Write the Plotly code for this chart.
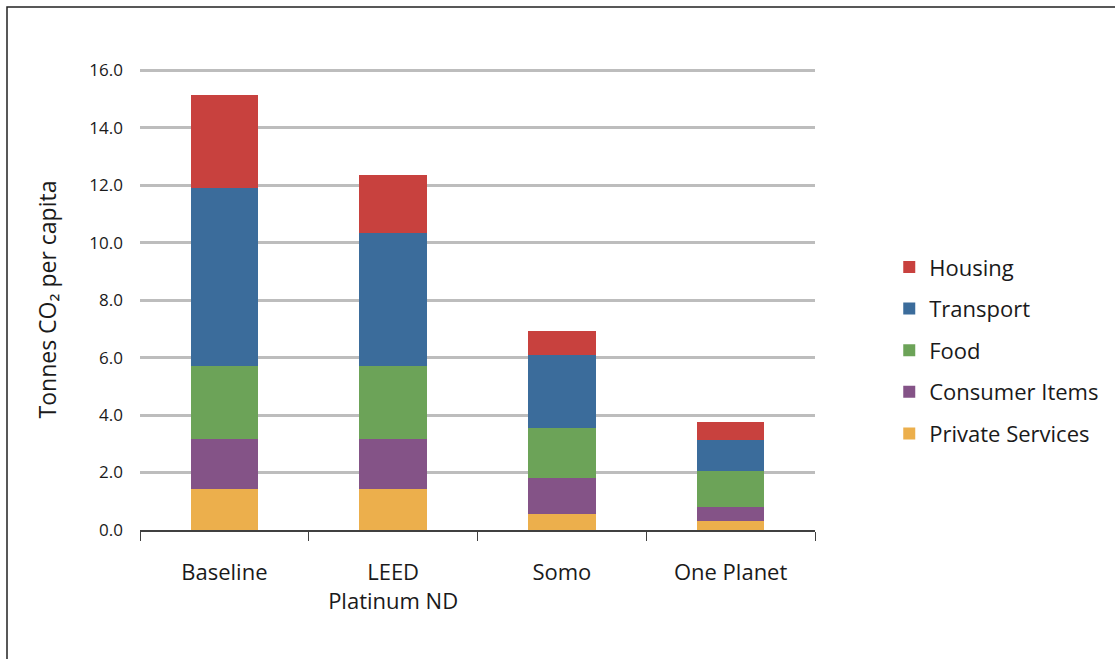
import plotly.graph_objects as go

categories = ["Baseline", "LEED<br>Platinum ND", "Somo", "One Planet"]
private_services = [1.43, 1.43, 0.57, 0.31]
consumer_items = [1.74, 1.74, 1.25, 0.49]
food = [2.53, 2.53, 1.74, 1.25]
transport = [6.20, 4.62, 2.53, 1.09]
housing = [3.23, 2.03, 0.83, 0.62]

series = [
    ("Private Services", private_services, "#ECAF4C"),
    ("Consumer Items", consumer_items, "#845387"),
    ("Food", food, "#6CA358"),
    ("Transport", transport, "#3B6C9B"),
    ("Housing", housing, "#C8413E"),
]

FONT = "Open Sans, Lato, sans-serif"

fig = go.Figure()
n = len(series)
for i, (name, vals, color) in enumerate(series):
    fig.add_trace(go.Bar(
        x=categories, y=vals, name=name, marker=dict(color=color, line=dict(width=0)),
        legendgroup=name, legendrank=n - i,
    ))

YMAX = 16.04
fig.update_layout(
    barmode="stack",
    bargap=0.6,
    width=1115, height=659,
    margin=dict(l=140, r=300, t=69, b=129, autoexpand=False),
    paper_bgcolor="white", plot_bgcolor="white",
    font=dict(family=FONT, color="#1a1a1a"),
    legend=dict(
        traceorder="grouped", tracegroupgap=10,
        x=1.11, xanchor="left", y=0.39, yanchor="middle",
        font=dict(size=22, family=FONT, color="#1a1a1a"),
        itemwidth=30,
    ),
    xaxis=dict(
        type="category", showgrid=False, showline=True, linecolor="#404040", linewidth=1.5,
        ticks="outside", ticklen=9, tickcolor="#404040", tickwidth=1.2, tickson="boundaries",
        tickfont=dict(size=22, family=FONT, color="#1a1a1a"),
        ticklabelstandoff=22,
    ),
    yaxis=dict(
        range=[0, YMAX], tickvals=[0, 2, 4, 6, 8, 10, 12, 14, 16], tickformat=".1f",
        showgrid=True, gridcolor="#BDBDBD", gridwidth=2.5,
        zeroline=False, showline=False, ticks="",
        tickfont=dict(size=17, family=FONT, color="#1a1a1a"),
        ticklabelstandoff=16,
        title=dict(text="Tonnes CO₂ per capita", font=dict(size=23, family=FONT, color="#1a1a1a"), standoff=26),
    ),
    shapes=[dict(
        type="rect", xref="paper", yref="paper",
        x0=-133/675, x1=(1125-140)/675, y0=(530-675)/461, y1=(530-7)/461,
        line=dict(color="#222222", width=1.5), fillcolor="rgba(0,0,0,0)", layer="below",
    )],
)

fig.write_html("out.html")
